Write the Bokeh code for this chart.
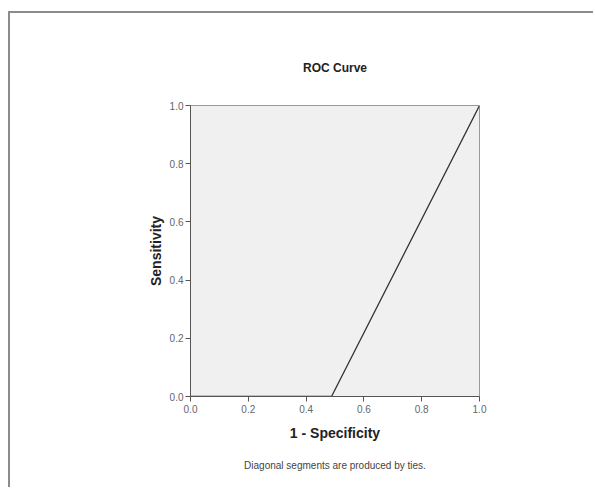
from bokeh.plotting import figure
from bokeh.models import Range1d, FixedTicker, Title, NumeralTickFormatter
from bokeh.embed import file_html
from bokeh.resources import INLINE

# ROC curve data
fpr = [0.0, 0.488, 1.0]   # 1 - Specificity
tpr = [0.0, 0.0, 1.0]     # Sensitivity
ticks = [0.0, 0.2, 0.4, 0.6, 0.8, 1.0]

FONT = "Liberation Sans"

p = figure(width=585, height=476, output_backend="svg", toolbar_location=None,
           x_range=Range1d(0, 1), y_range=Range1d(0, 1),
           min_border_left=180, min_border_right=116, min_border_top=92, min_border_bottom=93)
p.styles = {"margin-left": "8px", "margin-top": "11px",
            "border-top": "2px solid #8c8c8c", "border-left": "2px solid #8c8c8c"}

p.background_fill_color = "#f0f0f0"
p.border_fill_color = "white"
p.outline_line_color = "#9a9a9a"
p.outline_line_width = 1
p.grid.visible = False

p.line(fpr, tpr, line_color="#333333", line_width=1.3)

for ax in (p.xaxis[0], p.yaxis[0]):
    ax.ticker = FixedTicker(ticks=ticks)
    ax.formatter = NumeralTickFormatter(format="0.0")
    ax.minor_tick_line_color = None
    ax.major_tick_in = 0
    ax.major_tick_out = 5
    ax.major_tick_line_color = "#555555"
    ax.axis_line_color = "#555555"
    ax.major_label_text_font = FONT
    ax.major_label_text_font_size = "10px"
    ax.major_label_text_color = "#666666"
    ax.axis_label_text_font = FONT
    ax.axis_label_text_font_style = "bold"
    ax.axis_label_text_font_size = "14px"
    ax.axis_label_text_color = "#222222"

p.xaxis.axis_label = "1 - Specificity"
p.yaxis.axis_label = "Sensitivity"
p.xaxis.major_label_standoff = 3
p.yaxis.major_label_standoff = 2
p.xaxis.axis_label_standoff = 9
p.yaxis.axis_label_standoff = 3

# spacer between plot frame and title
spacer = Title(text=" ", text_font_size="12px")
p.add_layout(spacer, "above")

p.title.text = "ROC Curve"
p.title.align = "center"
p.title.text_font = FONT
p.title.text_font_size = "12px"
p.title.text_font_style = "bold"
p.title.text_color = "#222222"

foot = Title(text="Diagonal segments are produced by ties.", align="center",
             text_font=FONT, text_font_size="10px", text_font_style="normal",
             text_color="#444444", standoff=28)
p.add_layout(foot, "below")

open("out.html", "w").write(file_html(p, INLINE))
